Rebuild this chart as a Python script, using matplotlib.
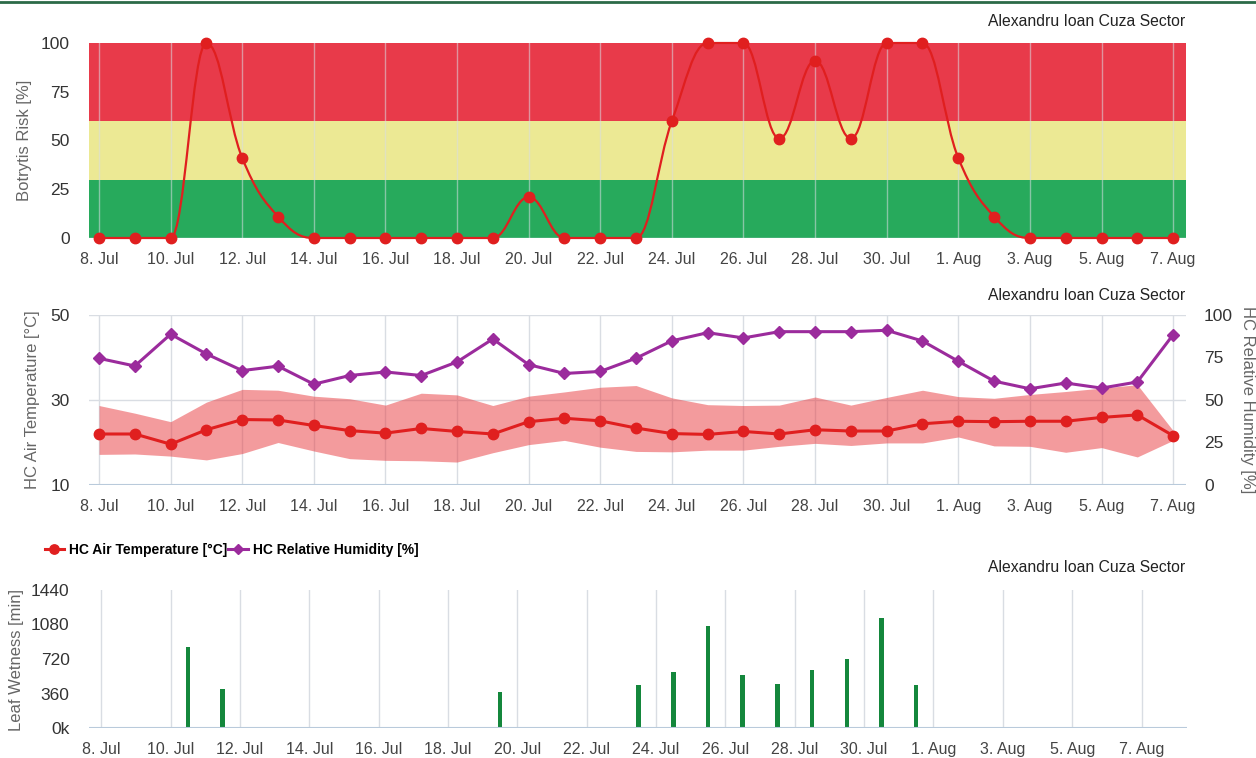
# LIBRARIES

import numpy as np
import pandas as pd
import matplotlib
matplotlib.use("Agg")
import matplotlib.pyplot as plt
import matplotlib.dates as mdates
from matplotlib.path import Path
from matplotlib.patches import PathPatch
from matplotlib.lines import Line2D

plt.rcParams['font.family'] = ['Liberation Sans', 'DejaVu Sans']


# DATA

dates = pd.date_range("2016-07-08", "2016-08-07", freq="D")

risk = [0, 0, 0, 100, 41, 11, 0, 0, 0, 0, 0, 0, 21, 0, 0, 0,
        60, 100, 100, 51, 91, 51, 100, 100,
        41, 11, 0, 0, 0, 0, 0]

temp_avg = [22.0, 22.0, 19.6, 23.0, 25.4, 25.3, 24.0, 22.8, 22.2, 23.3, 22.6, 22.0,
            24.9, 25.7, 25.1, 23.4, 22.1, 21.9, 22.6, 22.0, 23.0, 22.7, 22.7, 24.4,
            25.0, 24.9, 25.0, 25.0, 25.9, 26.5, 21.6]
temp_high = [28.7, 26.9, 24.9, 29.5, 32.5, 32.3, 30.9, 30.3, 28.8, 31.6, 31.2, 28.7,
             30.9, 31.9, 33.0, 33.4, 30.5, 28.9, 28.7, 28.8, 30.7, 28.8, 30.6, 32.3,
             30.8, 30.4, 31.3, 32.0, 32.8, 33.6, 22.8]
temp_low = [17.2, 17.3, 16.8, 15.9, 17.4, 20.0, 18.0, 16.2, 15.8, 15.7, 15.4, 17.6,
            19.5, 20.5, 18.9, 17.9, 17.8, 18.2, 18.2, 19.1, 19.8, 19.3, 19.9, 19.9,
            21.3, 19.2, 19.1, 17.7, 18.8, 16.6, 20.5]
humidity = [74.5, 70.0, 88.7, 77.1, 67.3, 69.9, 59.3, 64.4, 66.5, 64.4, 72.4, 85.9,
            70.8, 65.6, 66.8, 74.6, 84.8, 89.6, 86.5, 90.2, 90.2, 90.2, 91.0, 84.7,
            72.8, 61.1, 56.6, 60.0, 57.0, 60.6, 88.4]

wet_days = pd.to_datetime(["2016-07-10", "2016-07-11", "2016-07-19", "2016-07-23",
                           "2016-07-24", "2016-07-25", "2016-07-26", "2016-07-27",
                           "2016-07-28", "2016-07-29", "2016-07-30", "2016-07-31"])
wet_minutes = [844, 406, 379, 448, 589, 1064, 548, 462, 606, 717, 1147, 448]

tick_dates = pd.date_range("2016-07-08", "2016-08-07", freq="2D")
sector = "Alexandru Ioan Cuza Sector"


# STYLE

W, H = 1256, 758
RED_ZONE = "#e83a4a"
YELLOW_ZONE = "#ece994"
GREEN_ZONE = "#27aa5c"
LINE_RED = "#e01f1f"
PURPLE = "#9b2b9c"
BAR_GREEN = "#14873c"
GRID = "#d9dde3"
BASE = "#b9cadb"
TXT = "#333333"
LBL = "#666666"


def spline_path(xs, ys, smoothing=1.5):
    # smoothed curve through the points (bezier control points like a charting lib spline)
    n = len(xs)
    denom = smoothing + 1
    left = [(xs[i], ys[i]) for i in range(n)]
    right = [(xs[i], ys[i]) for i in range(n)]
    for i in range(1, n - 1):
        x, y = xs[i], ys[i]
        lx, ly = xs[i - 1], ys[i - 1]
        nx_, ny = xs[i + 1], ys[i + 1]
        lcx = (smoothing * x + lx) / denom
        lcy = (smoothing * y + ly) / denom
        rcx = (smoothing * x + nx_) / denom
        rcy = (smoothing * y + ny) / denom
        corr = (rcy - lcy) * (rcx - x) / (rcx - lcx) + y - rcy
        lcy += corr
        rcy += corr
        if lcy > ly and lcy > y:
            lcy = max(ly, y); rcy = 2 * y - lcy
        elif lcy < ly and lcy < y:
            lcy = min(ly, y); rcy = 2 * y - lcy
        if rcy > ny and rcy > y:
            rcy = max(ny, y); lcy = 2 * y - rcy
        elif rcy < ny and rcy < y:
            rcy = min(ny, y); lcy = 2 * y - rcy
        left[i] = (lcx, lcy)
        right[i] = (rcx, rcy)
    verts = [(xs[0], ys[0])]
    codes = [Path.MOVETO]
    for i in range(1, n):
        verts += [right[i - 1], left[i], (xs[i], ys[i])]
        codes += [Path.CURVE4] * 3
    return Path(verts, codes)


def axes_px(left, top, right, bottom):
    return fig.add_axes([left / W, 1 - bottom / H, (right - left) / W, (bottom - top) / H])


def style_axis(ax, grid_alpha=1.0):
    for s in ax.spines.values():
        s.set_visible(False)
    ax.tick_params(axis="both", length=0)
    ax.tick_params(axis="y", labelsize=12.5, labelcolor=TXT, pad=14)
    ax.tick_params(axis="x", labelsize=11.5, labelcolor="#444444", pad=10)
    ax.set_xticks(mdates.date2num(tick_dates))
    ax.xaxis.set_major_formatter(mdates.DateFormatter("%-d. %b"))
    ax.grid(axis="x", color=GRID, linewidth=1, alpha=grid_alpha)
    ax.set_axisbelow(True)


fig = plt.figure(figsize=(W / 100, H / 100), dpi=100)
fig.add_artist(Line2D([0, 1], [1 - 1.5 / H, 1 - 1.5 / H], color="#2c6a48", linewidth=2))

x = mdates.date2num(dates)
x0, x1 = x[0] - 0.28, x[0] + 30.36


# PANEL 1 - BOTRYTIS RISK

ax1 = axes_px(89, 43, 1186, 238)
style_axis(ax1, grid_alpha=0.55)
ax1.axhspan(0, 30, color=GREEN_ZONE, zorder=0.1, linewidth=0)
ax1.axhspan(30, 60, color=YELLOW_ZONE, zorder=0.1, linewidth=0)
ax1.axhspan(60, 100, color=RED_ZONE, zorder=0.1, linewidth=0)
ax1.add_patch(PathPatch(spline_path(list(x), risk), facecolor="none",
                        edgecolor=LINE_RED, linewidth=1.6, zorder=2, clip_on=False))
ax1.plot(x, risk, "o", color=LINE_RED, markersize=7.5, zorder=3, clip_on=False)
ax1.axhline(0, color=BASE, linewidth=1, zorder=0.2)
ax1.set_xlim(x0, x1)
ax1.set_ylim(0, 100)
ax1.set_yticks([0, 25, 50, 75, 100])
fig.text(25 / W, 1 - 140 / H, "Botrytis Risk [%]", rotation=90, ha="center", va="center",
         fontsize=12, color=LBL)
fig.text(1185 / W, 1 - 21 / H, sector, ha="right", va="center", fontsize=11.3, color="#222222")


# PANEL 2 - TEMPERATURE / HUMIDITY

ax2 = axes_px(89, 315, 1186, 485)
style_axis(ax2)
ax2.grid(axis="y", color=GRID, linewidth=1)
ax2.fill_between(x, temp_low, temp_high, color="#e8383d", alpha=0.5, linewidth=0, zorder=1)
t_line, = ax2.plot(x, temp_avg, "-o", color=LINE_RED, linewidth=2.2, markersize=7.5,
                   zorder=3, clip_on=False, label="HC Air Temperature [°C]")
ax2.axhline(10, color=BASE, linewidth=1.5, zorder=0.6)
ax2.set_xlim(x0, x1)
ax2.set_ylim(10, 50)
ax2.set_yticks([10, 30, 50])

ax2r = ax2.twinx()
for s in ax2r.spines.values():
    s.set_visible(False)
h_line, = ax2r.plot(x, humidity, "-D", color=PURPLE, linewidth=2.2, markersize=6,
                    zorder=3, clip_on=False, label="HC Relative Humidity [%]")
ax2r.set_ylim(0, 100)
ax2r.set_yticks([0, 25, 50, 75, 100])
ax2r.tick_params(axis="y", length=0, labelsize=12.5, labelcolor=TXT, pad=13)
ax2r.set_xlim(x0, x1)

fig.text(33 / W, 1 - 400 / H, "HC Air Temperature [°C]", rotation=90, ha="center",
         va="center", fontsize=12, color=LBL)
fig.text(1247 / W, 1 - 400 / H, "HC Relative Humidity [%]", rotation=270, ha="center",
         va="center", fontsize=12, color=LBL)
fig.text(1185 / W, 1 - 296 / H, sector, ha="right", va="center", fontsize=11.3, color="#222222")

fig.legend(handles=[t_line, h_line], loc="center left",
           bbox_to_anchor=(32 / W, 1 - 550 / H), ncol=2, frameon=False,
           prop=dict(weight="bold", size=10), handlelength=1.4, handletextpad=0.35,
           columnspacing=0.1, markerscale=0.9)


# PANEL 3 - LEAF WETNESS

ax3 = axes_px(89, 590, 1187, 728)
style_axis(ax3)
xb0 = x[0]
ax3.bar(mdates.date2num(wet_days) + 0.5, wet_minutes, width=0.13, color=BAR_GREEN, zorder=2)
ax3.axhline(0, color=BASE, linewidth=1.5, zorder=2.5)
ax3.set_xlim(xb0 - 0.35, xb0 + 31.31)
ax3.set_ylim(0, 1440)
ax3.set_yticks([0, 360, 720, 1080, 1440])
ax3.set_yticklabels(["0k", "360", "720", "1080", "1440"])
fig.text(17 / W, 1 - 660 / H, "Leaf Wetness [min]", rotation=90, ha="center", va="center",
         fontsize=12, color=LBL)
fig.text(1185 / W, 1 - 567 / H, sector, ha="right", va="center", fontsize=11.3, color="#222222")


# OUTPUT

fig.savefig("out.png", dpi=100)
